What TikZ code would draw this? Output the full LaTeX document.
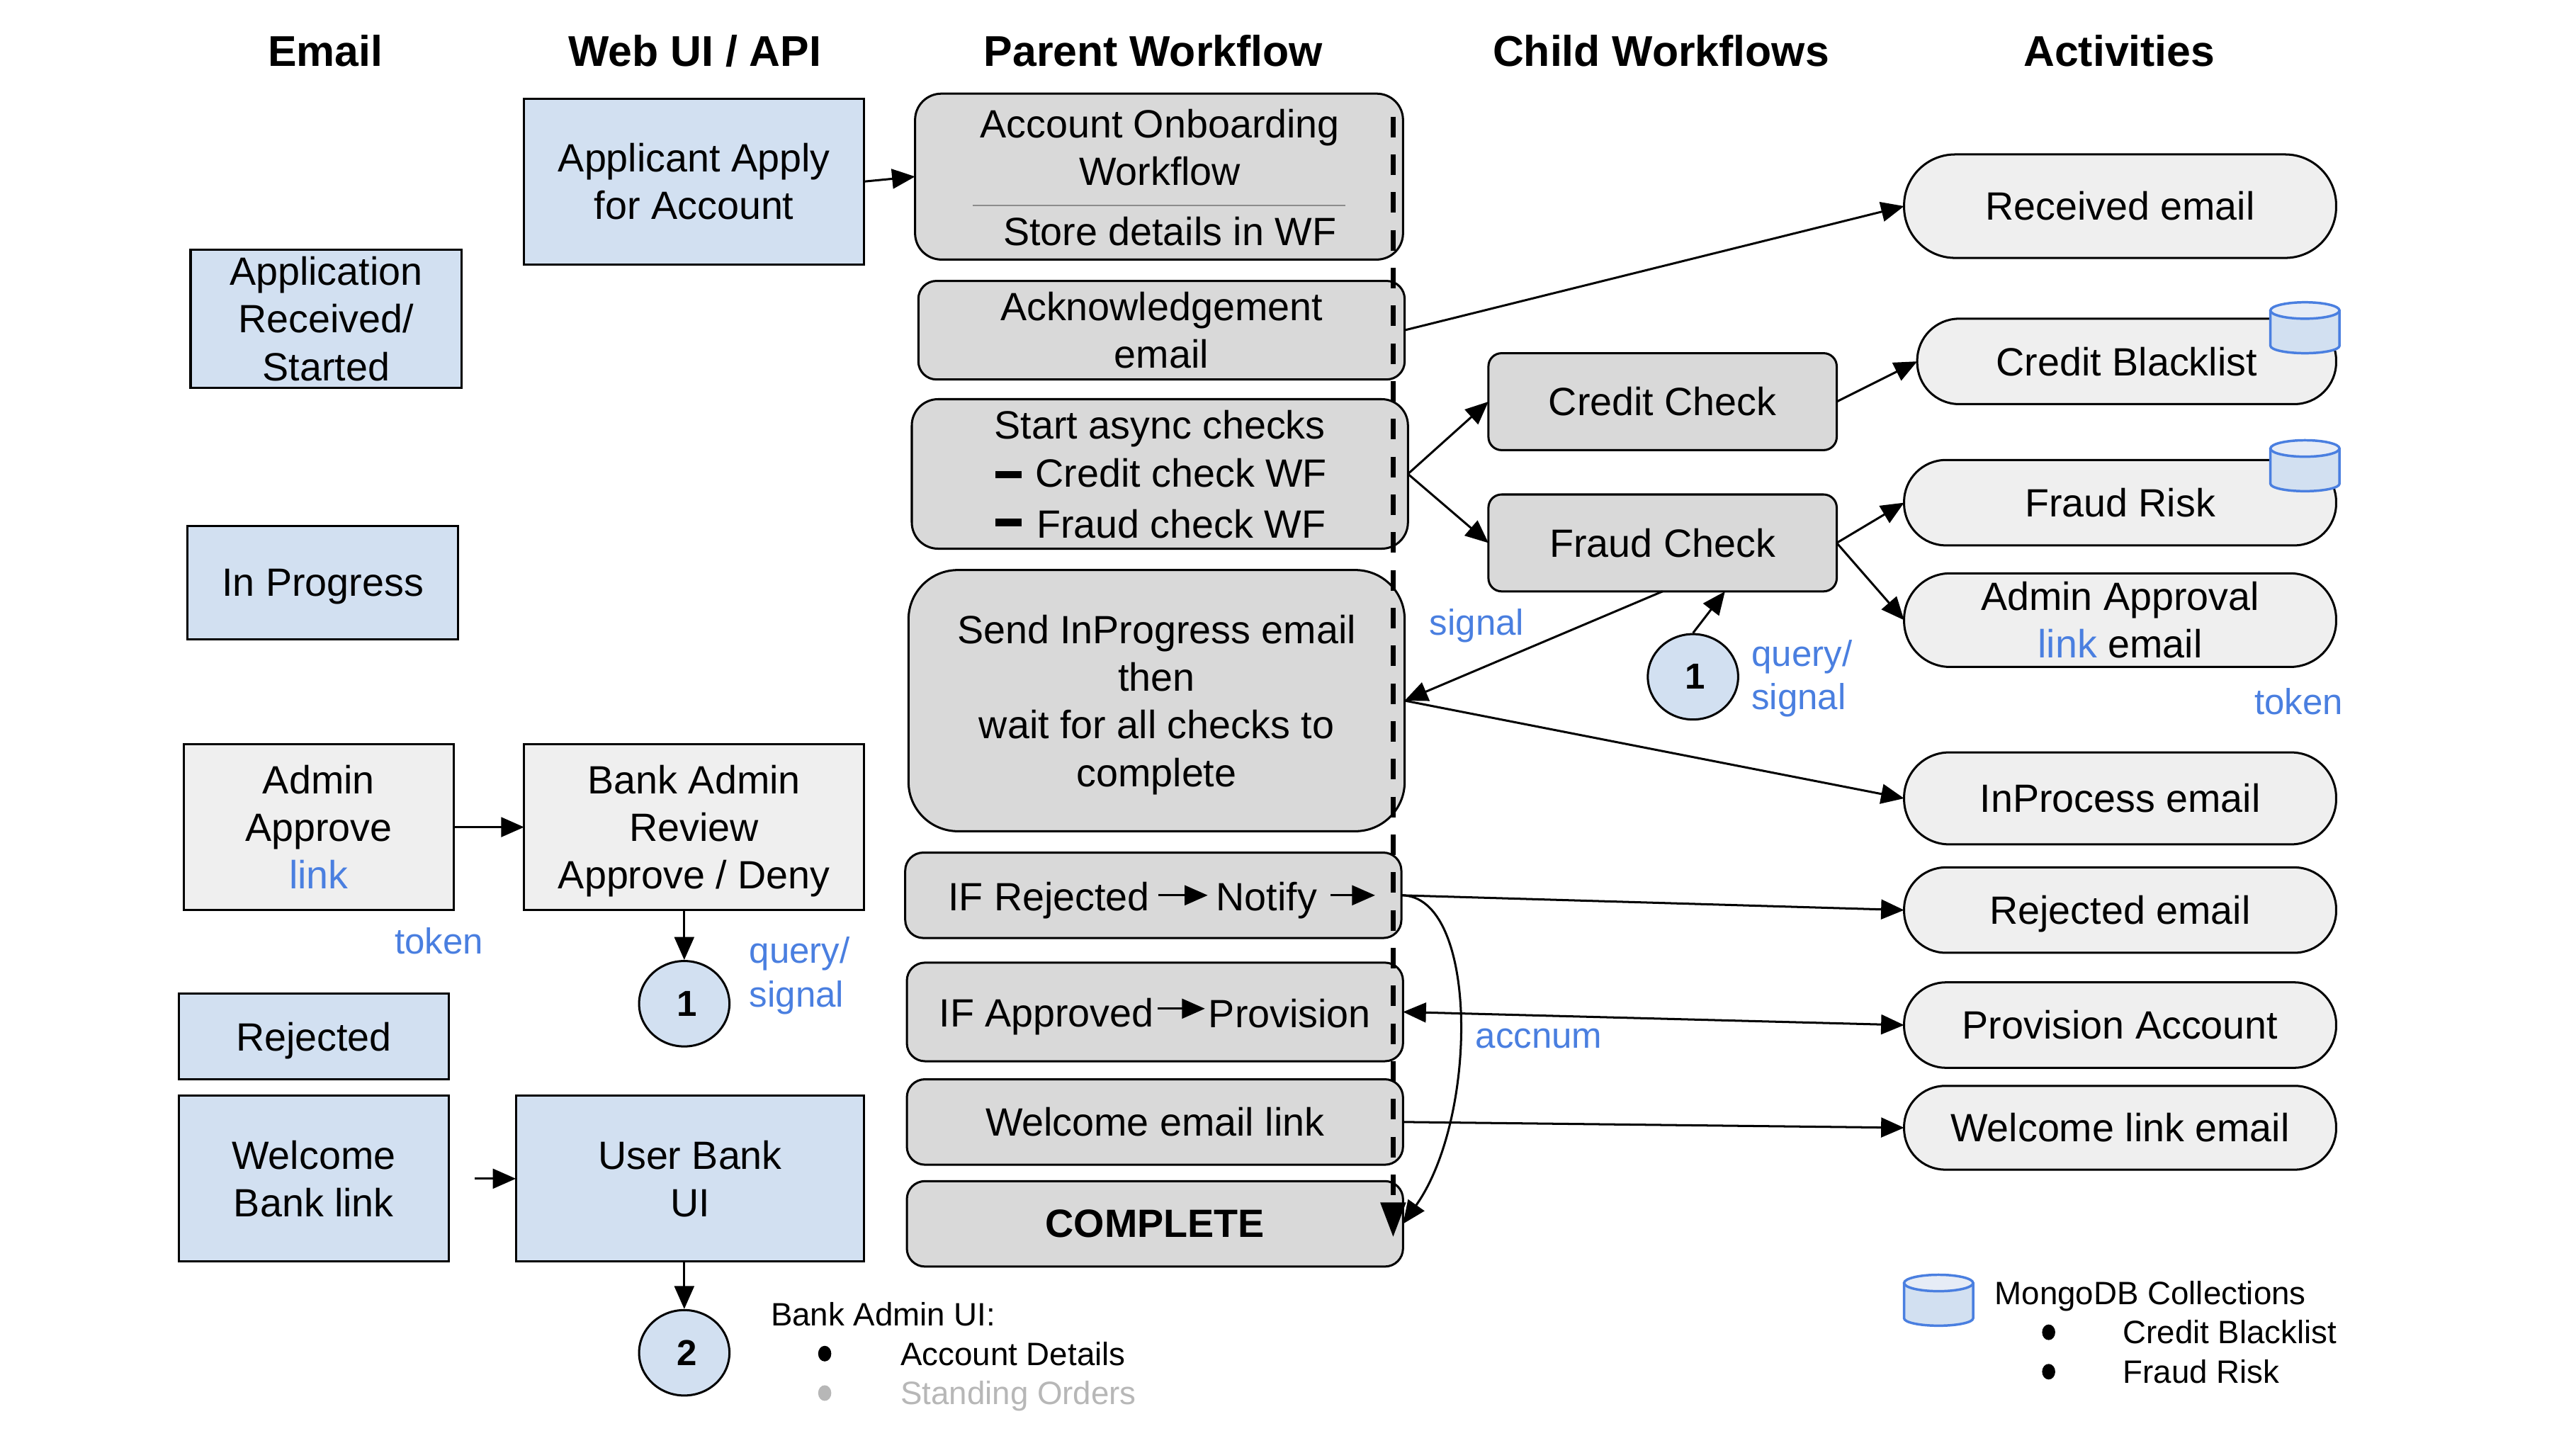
\documentclass[tikz,border=0pt]{standalone}
\usepackage{fontspec}
\setmainfont{Liberation Sans}
\usetikzlibrary{arrows.meta,shapes.geometric}
\definecolor{boxblue}{HTML}{D2E0F1}
\definecolor{boxgrey}{HTML}{D9D9D9}
\definecolor{boxlight}{HTML}{EFEFEF}
\definecolor{linkblue}{HTML}{4A7FE0}
\definecolor{cyltop}{HTML}{E6ECF6}
\definecolor{greytext}{HTML}{B7B7B7}
\newcommand{\nod}[1]{\raisebox{0pt}[\height][0pt]{#1}}
\newcommand{\bx}[7]{\pgfmathsetmacro\cxx{(#3+#5)/2}\pgfmathsetmacro\cyy{(#4+#6)/2}\pgfmathsetmacro\ww{#5-#3}\pgfmathsetmacro\hh{#6-#4}\node[#1,minimum width=\ww pt,minimum height=\hh pt] (#2) at (\cxx,\cyy) {#7};}
\newcommand{\dbcyl}[2]{%
  \path[fill=boxblue] (#1,#2+4.5) -- (#1,#2+26.5) arc[start angle=180,end angle=0,x radius=21,y radius=4.5] -- (#1+42,#2+4.5) -- cycle;
  \draw[cylline] (#1,#2+4.5) -- (#1,#2+26.5) arc[start angle=180,end angle=0,x radius=21,y radius=4.5] -- (#1+42,#2+4.5);
  \draw[cylline,fill=cyltop] (#1+21,#2+5) ellipse[x radius=21,y radius=5];}
\tikzset{
  base/.style={draw=black,line width=1.3pt,inner sep=0pt,outer sep=0pt,align=center,font=\fontsize{24}{29}\selectfont},
  blue/.style={base,fill=boxblue},
  light/.style={base,fill=boxlight},
  grey/.style={base,fill=boxgrey},
  pill/.style={base,fill=boxlight,rounded corners=#1},
  wf/.style={base,fill=boxgrey,rounded corners=#1},
  circ/.style={draw=black,line width=1.3pt,fill=boxblue,ellipse,inner sep=0pt,minimum width=55pt,minimum height=52pt,font=\bfseries\fontsize{22}{26}\selectfont},
  hdr/.style={font=\bfseries\fontsize{26.2}{32}\selectfont,inner sep=0pt},
  txt/.style={font=\fontsize{24}{29}\selectfont,inner sep=0pt,align=center},
  lbl/.style={font=\fontsize{22}{26.5}\selectfont,text=linkblue,inner sep=0pt,align=left},
  small/.style={font=\fontsize{19.7}{24}\selectfont,inner sep=0pt,anchor=west},
  bul/.style={fill=black,ellipse,inner sep=0pt,minimum width=8pt,minimum height=9.5pt},
  con/.style={line width=1.3pt,-{Triangle[length=14pt,width=12pt]}},
  ccon/.style={line width=1.3pt,{Triangle[length=14pt,width=12pt]}-{Triangle[length=14pt,width=12pt]}},
  cylline/.style={draw=linkblue,line width=1.5pt},
  dashline/.style={line width=2.7pt,dash pattern=on 12.5pt off 10.5pt,-{Triangle[length=21pt,width=15pt]}},
  barmark/.style={fill=black,inner sep=0pt,minimum width=16pt,minimum height=4.5pt},
}
\begin{document}
\begin{tikzpicture}[x=1pt,y=-1pt]
\useasboundingbox[fill=white] (0,0) rectangle (1568,881.4);
% headers
\node[hdr] (hEmail) at (198,31) {Email};
\node[hdr] (hWeb) at (423,31) {Web UI / API};
\node[hdr] (hParent) at (702,31) {Parent Workflow};
\node[hdr] (hChild) at (1011,31) {Child Workflows};
\node[hdr] (hAct) at (1290,31) {Activities};
% email column
\bx{blue}{appRec}{116}{152}{281}{236}{Application\\Received/\\Started}
\bx{blue}{inProg}{114}{320}{279}{389}{\nod{In Progress}}
\bx{light}{adminAp}{112}{453}{276}{554}{Admin\\Approve\\\textcolor{linkblue}{link}}
\bx{blue}{rejBox}{109}{605}{273}{657}{\nod{Rejected}}
\bx{blue}{welBank}{109}{667}{273}{768}{Welcome\\Bank link}
% web column
\bx{blue}{apply}{319}{60}{526}{161}{Applicant Apply\\for Account}
\bx{light}{bankAdm}{319}{453}{526}{554}{Bank Admin\\Review\\\nod{Approve / Deny}}
\bx{blue}{userBank}{314}{667}{526}{768}{User Bank\\UI}
% parent column
\bx{wf=16pt}{acct}{557}{57}{854}{158}{}
\node[txt] (acctT) at (706,89.5) {Account Onboarding\\\nod{Workflow}};
\node[txt] (acctS) at (712,141) {Store details in WF};
\coordinate (sepL) at (592,125);
\coordinate (sepR) at (819,125);
\draw[black!45,line width=0.7pt] (sepL) -- (sepR);
\bx{wf=11pt}{ack}{559}{171}{855}{231}{Acknowledgement\\email}
\bx{wf=16pt}{start}{555}{243}{857}{334}{}
\node[txt] (startT) at (706,261) {Start async checks};
\node[barmark] (bar1) at (614,289) {};
\node[txt] (startC) at (719,288) {Credit check WF};
\node[barmark] (bar2) at (614,318) {};
\node[txt] (startF) at (719,319) {Fraud check WF};
\bx{wf=30pt}{send}{553}{347}{855}{506}{Send InProgress email\\then\\wait for all checks to\\\nod{complete}}
\bx{wf=11pt}{ifRej}{551}{519}{853}{571}{}
\node[txt] (ifRejT) at (638.5,548) {IF Rejected};
\node[txt] (notifyT) at (771,548) {Notify};
\coordinate (notifyEnd) at (837,545);
\bx{wf=11pt}{ifApp}{552}{586}{854}{646}{}
\node[txt] (ifAppT) at (637,619) {IF Approved};
\node[txt] (provT) at (785,617) {Provision};
\bx{wf=11pt}{welEm}{552}{657}{854}{709}{Welcome email link}
\bx{wf=11pt}{complete}{552}{719}{854}{771}{\bfseries COMPLETE}
% child column
\bx{wf=8pt}{credit}{906}{215}{1118}{274}{Credit Check}
\bx{wf=8pt}{fraud}{906}{301}{1118}{360}{Fraud Check}
% activities
\bx{pill=31pt}{received}{1159}{94}{1422}{157}{Received email}
\bx{pill=25.5pt}{blacklist}{1167}{194}{1422}{246}{Credit Blacklist}
\bx{pill=25.5pt}{fraudRisk}{1159}{280}{1422}{332}{Fraud Risk}
\bx{pill=28pt}{adminEm}{1159}{349}{1422}{406}{Admin Approval\\\textcolor{linkblue}{link} email}
\bx{pill=27.5pt}{inProc}{1159}{458}{1422}{514}{InProcess email}
\bx{pill=25.5pt}{rejEm}{1159}{528}{1422}{580}{\nod{Rejected email}}
\bx{pill=25.5pt}{provAcc}{1159}{598}{1422}{650}{Provision Account}
\bx{pill=25pt}{welLink}{1159}{661}{1422}{712}{Welcome link email}
% cylinders
\dbcyl{1382}{184}
\dbcyl{1382}{268}
\dbcyl{1159}{776}
% circles
\node[circ] (cOneA) at (1030.5,412) {\hspace*{3pt}1};
\node[circ] (cOneB) at (416.5,611) {\hspace*{3pt}1};
\node[circ] (cTwo) at (416.5,823.5) {\hspace*{3pt}2};
% blue labels
\node[lbl,anchor=west] (lSignal) at (870,381) {signal};
\node[lbl,anchor=west] (lQs1) at (1066,413) {query/\\signal};
\node[lbl,anchor=west] (lTok1) at (1372,427) {token};
\node[lbl,anchor=west] (lTok2) at (240,573) {token};
\node[lbl,anchor=west] (lQs2) at (456,594) {query/\\signal};
\node[lbl,anchor=west] (lAcc) at (898,632) {accnum};
% notes
\node[small] (n1) at (469,800) {Bank Admin UI:};
\node[bul] (b1) at (502,824) {};
\node[small] (n2) at (548,824) {Account Details};
\node[bul,fill=greytext] (b2) at (502,848) {};
\node[small,text=greytext] (n3) at (548,850) {Standing Orders};
\node[small] (m1) at (1214,789) {MongoDB Collections};
\node[bul] (b3) at (1247,811) {};
\node[small] (m2) at (1292,811) {Credit Blacklist};
\node[bul] (b4) at (1247,835) {};
\node[small] (m3) at (1292,835) {Fraud Risk};
% dashed timeline
\coordinate (dashTop) at (848,71);
\coordinate (dashEnd) at (848,753);
\draw[dashline] (dashTop) -- (dashEnd);
% connectors
\draw[con] (apply.east) -- (acct.west);
\draw[con] (ack.east) -- (received.west);
\draw[con] (start.east) -- (credit.west);
\draw[con] (start.east) -- (fraud.west);
\draw[con] (credit.east) -- (blacklist.west);
\draw[con] (fraud.east) -- (fraudRisk.west);
\draw[con] (fraud.east) -- (adminEm.west);
\draw[con] (fraud.south) -- (send.east);
\draw[con] (cOneA.north) -- ([xshift=38pt]fraud.south);
\draw[con] (send.east) -- (inProc.west);
\draw[con] (ifRej.east) -- (rejEm.west);
\draw[con] (ifRej.east) .. controls (900,545) and (900,680) .. (complete.east);
\draw[ccon] (ifApp.east) -- (provAcc.west);
\draw[con] (welEm.east) -- (welLink.west);
\draw[con] (adminAp.east) -- (bankAdm.west);
\draw[con] (bankAdm.south -| cOneB.north) -- (cOneB.north);
\coordinate (welStart) at (289,717.5);
\draw[con] (welStart) -- (userBank.west);
\draw[con] (userBank.south -| cTwo.north) -- (cTwo.north);
\draw[con] ([xshift=5pt,yshift=3pt]ifRejT.east) -- ([xshift=-5pt,yshift=3pt]notifyT.west);
\draw[con] ([xshift=8pt,yshift=3pt]notifyT.east) -- (notifyEnd);
\draw[con] ([xshift=2pt,yshift=5pt]ifAppT.east) -- ([xshift=-2pt,yshift=3pt]provT.west);
\end{tikzpicture}
\end{document}
